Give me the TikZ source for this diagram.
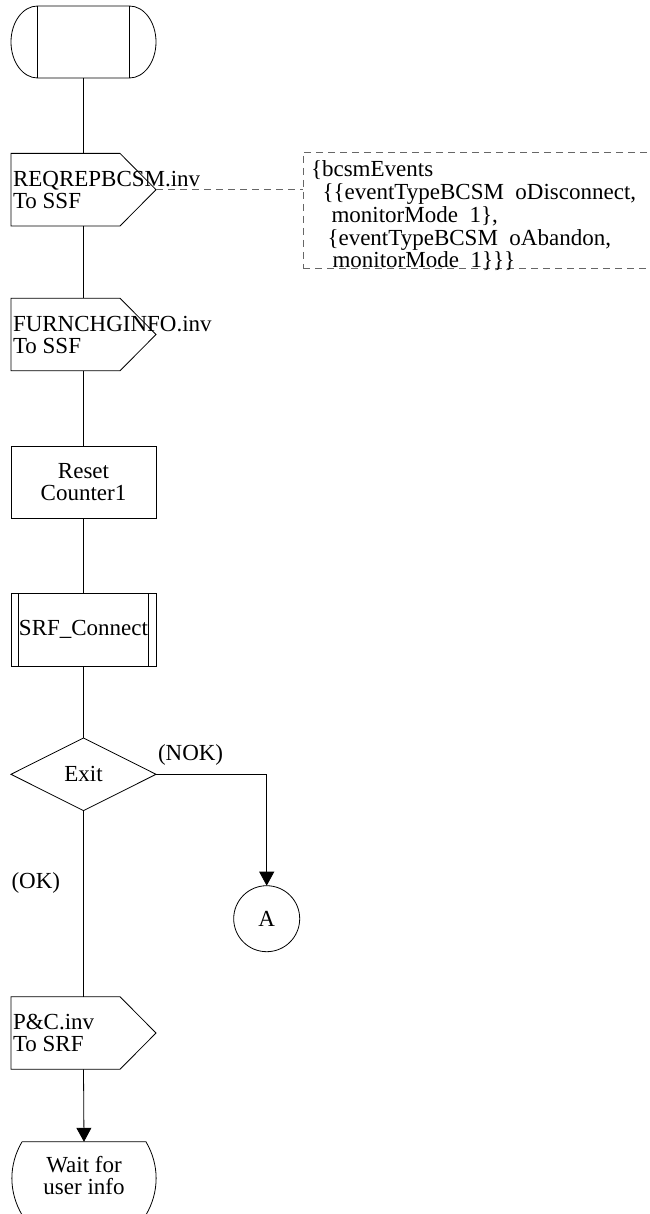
\documentclass[tikz,border=0pt]{standalone}
\usepackage{fontspec}
\setmainfont{Liberation Serif}
\usetikzlibrary{shapes.geometric,arrows.meta}

% outline of an SDL output signal built on a rectangular node
\newcommand\signalpath[1]{%
  \draw (#1.north west) -- ([xshift=-36pt]#1.north east) -- (#1.east)
        -- ([xshift=-36pt]#1.south east) -- (#1.south west) -- cycle;}

\begin{document}
\begin{tikzpicture}[x=1pt,y=1pt,
  line width=0.8pt,
  every node/.style={inner sep=0pt, outer sep=0pt},
  txt/.style={font=\fontsize{23}{22}\selectfont},
  sdlbox/.style={rectangle, minimum width=145pt, minimum height=72.6pt},
  arr/.style={-{Triangle[length=14pt,width=15pt]}},
  notedash/.style={draw=black!60, dash pattern=on 7pt off 5pt},
]
\useasboundingbox (0,0) rectangle (649,-1214);

% start symbol
\node[sdlbox, minimum width=92pt, minimum height=72pt] (start) at (83.5,-42) {};
\draw (start.north west) -- (start.north east)
  arc[start angle=90, end angle=-90, x radius=26.5, y radius=36]
  -- (start.south west)
  arc[start angle=270, end angle=90, x radius=26.5, y radius=36] -- cycle;
\draw (start.north west) -- (start.south west)
      (start.north east) -- (start.south east);

% REQREPBCSM output
\node[sdlbox] (req) at (83.5,-189.7) {};
\signalpath{req}
\node[txt, align=left, anchor=west] (reqtxt) at ([xshift=2pt]req.west) {REQREPBCSM.inv\\To SSF};

% comment box with its parameters
\node[notedash, rectangle, minimum width=360pt, minimum height=116pt, anchor=north west] (note) at (303,-152) {};
\node[txt, anchor=base west] (note1) at (311,-176.7) {\{bcsmEvents};
\node[txt, anchor=base west] (note2) at (322.5,-199.5) {\{\{eventTypeBCSM\ \ oDisconnect,};
\node[txt, anchor=base west] (note3) at (331.5,-222.3) {monitorMode\ \ 1\},};
\node[txt, anchor=base west] (note4) at (327.5,-245.1) {\{eventTypeBCSM\ \ oAbandon,};
\node[txt, anchor=base west] (note5) at (332.5,-268) {monitorMode\ \ 1\}\}\}};
\draw[notedash] (req.east) -- (req.east -| note.west);

% FURNCHGINFO output
\node[sdlbox] (furn) at (83.5,-334.5) {};
\signalpath{furn}
\node[txt, align=left, anchor=west] (furntxt) at ([xshift=2pt]furn.west) {FURNCHGINFO.inv\\To SSF};

% task box
\node[sdlbox, draw, txt, align=center] (reset) at (83.5,-482.2) {Reset\\Counter1};

% procedure call
\node[sdlbox, draw, txt] (srf) at (83.5,-629.7) {SRF\_Connect};
\draw ([xshift=7.3pt]srf.north west) -- ([xshift=7.3pt]srf.south west)
      ([xshift=-7.3pt]srf.north east) -- ([xshift=-7.3pt]srf.south east);

% decision
\node[diamond, draw, txt, minimum width=145pt, minimum height=72.6pt] (exit) at (83.5,-774.3) {Exit};
\node[txt, anchor=west] (nok) at (158,-755) {(NOK)};
\node[txt, anchor=west] (ok) at (11.5,-883) {(OK)};

% connector A
\node[circle, draw, txt, minimum size=66pt] (conA) at (266.7,-918.7) {A};

% P&C output
\node[sdlbox] (pc) at (83.5,-1033) {};
\signalpath{pc}
\node[txt, align=left, anchor=west] (pctxt) at ([xshift=2pt]pc.west) {P\&C.inv\\To SRF};

% next state
\node[rectangle, minimum width=124pt, minimum height=73pt] (wait) at (84,-1178.3) {};
\draw (wait.north west) -- (wait.north east)
  .. controls +(13.5,-23) and +(13.5,23) .. (wait.south east)
  -- (wait.south west)
  .. controls +(-13.5,23) and +(-13.5,-23) .. (wait.north west);
\node[txt, align=center] (waittxt) at ([yshift=3pt]wait.center) {Wait for\\user info};

% flow lines
\draw (start.south) -- (req.north);
\draw (req.south) -- (furn.north);
\draw (furn.south) -- (reset.north);
\draw (reset.south) -- (srf.north);
\draw (srf.south) -- (exit.north);
\draw (exit.south) -- (pc.north);
\draw[arr] (pc.south) -- (wait.north);
\draw[arr] (exit.east) -| (conA.north);
\end{tikzpicture}
\end{document}
